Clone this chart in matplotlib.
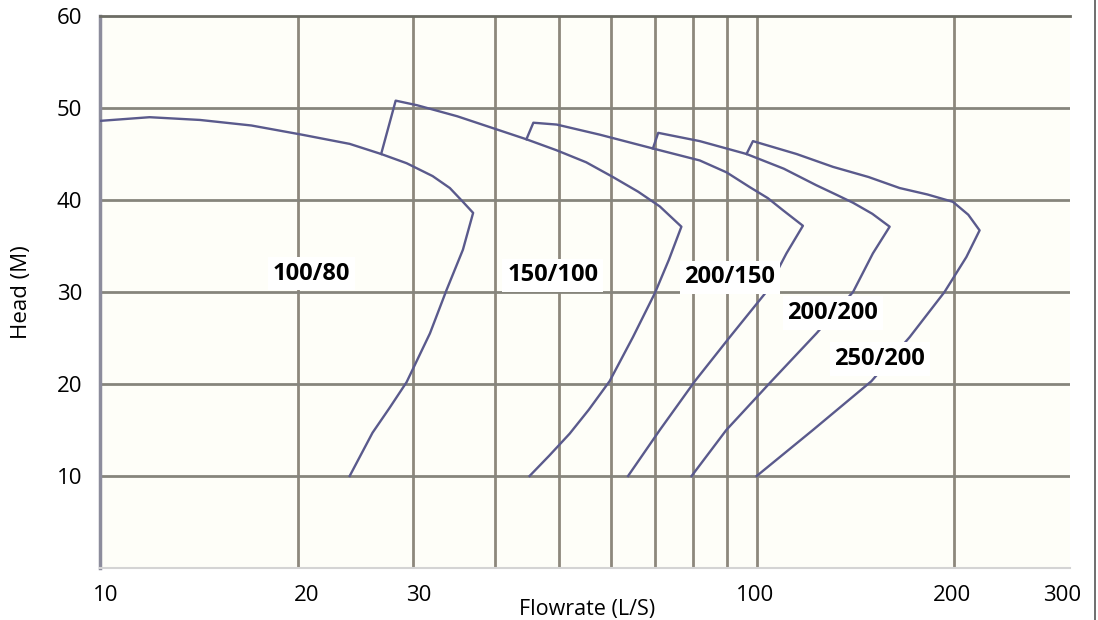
import matplotlib
matplotlib.use("Agg")
import matplotlib.pyplot as plt
import matplotlib.transforms as mtransforms
from matplotlib.lines import Line2D

# pump curves (flow L/S, head M)
q_100_80 = [10.0, 11.9, 14.2, 17.0, 20.3, 24.0, 26.8, 29.3, 32.1, 34.1, 35.7, 37.0,
            35.7, 33.7, 31.8, 29.3, 27.6, 26.0, 24.0]
h_100_80 = [48.6, 49.0, 48.7, 48.1, 47.1, 46.1, 45.0, 44.0, 42.6, 41.3, 39.8, 38.6,
            34.6, 30.2, 25.5, 20.2, 17.4, 14.7, 10.0]

q_150_100 = [26.8, 28.2, 30.4, 35.0, 39.7, 44.6, 49.6, 55.0, 60.4, 66.0, 71.2, 76.8,
             73.5, 70.0, 64.8, 59.7, 55.5, 51.9, 48.3, 45.1]
h_150_100 = [45.0, 50.8, 50.3, 49.1, 47.8, 46.6, 45.4, 44.1, 42.5, 40.9, 39.3, 37.1,
             33.5, 29.9, 25.1, 20.3, 17.2, 14.6, 12.2, 10.0]

q_200_150 = [44.6, 45.7, 49.6, 57.7, 69.5, 81.9, 90.0, 97.6, 104.0, 109.6, 117.6,
             111.0, 103.4, 91.0, 80.5, 71.2, 63.7]
h_200_150 = [46.6, 48.4, 48.2, 47.1, 45.6, 44.3, 43.0, 41.4, 40.2, 38.9, 37.2,
             34.2, 30.0, 25.1, 20.3, 15.0, 10.0]

q_200_200 = [69.5, 70.8, 81.9, 96.5, 110.0, 123.3, 132.0, 140.2, 150.0, 159.4,
             150.3, 140.2, 123.3, 105.3, 89.9, 79.6]
h_200_200 = [45.6, 47.3, 46.4, 45.0, 43.4, 41.6, 40.6, 39.7, 38.5, 37.1,
             34.2, 30.0, 25.5, 20.3, 15.0, 10.0]

q_250_200 = [96.5, 98.7, 115.0, 130.7, 148.0, 165.1, 182.0, 199.0, 210.0, 218.5,
             208.6, 193.2, 171.0, 149.5, 121.8, 100.0]
h_250_200 = [45.0, 46.4, 45.0, 43.6, 42.5, 41.3, 40.6, 39.8, 38.4, 36.7,
             33.8, 30.0, 25.1, 20.3, 15.0, 10.0]

curves = [(q_100_80, h_100_80), (q_150_100, h_150_100), (q_200_150, h_200_150),
          (q_200_200, h_200_200), (q_250_200, h_250_200)]

labels = ["100/80", "150/100", "200/150", "200/200", "250/200"]
label_q = [21.0, 48.9, 91.0, 130.5, 153.9]
label_h = [32.0, 31.8, 31.6, 27.7, 22.7]

x_grid = [20, 30, 40, 50, 60, 70, 80, 90, 100, 200]
y_grid = [10, 20, 30, 40, 50]
x_ticks = [10, 20, 30, 100, 200, 300]
y_ticks = [10, 20, 30, 40, 50, 60]

plt.rcParams['font.family'] = ['Open Sans', 'DejaVu Sans']

fig = plt.figure(figsize=(10.98, 6.2), dpi=100, facecolor="white")
ax = fig.add_axes([100/1098, 52/620, 970/1098, 552/620])
ax.set_facecolor("#fefef8")
ax.set_xscale("log")
ax.set_xlim(10, 300)
ax.set_ylim(0, 60)

for g in x_grid:
    ax.axvline(g, color="#8d887c", lw=2.0, zorder=1)
for g in y_grid:
    ax.axhline(g, color="#86857c", lw=2.0, zorder=1)

line_col = "#5a5a8c"
for q, h in curves:
    ax.plot(q, h, color=line_col, lw=1.7, zorder=3)

for txt, q, h in zip(labels, label_q, label_h):
    ax.text(q, h, txt, ha="center", va="center", fontsize=17, fontweight="bold",
            color="black", zorder=4,
            bbox=dict(boxstyle="square,pad=0.2", fc="white", ec="none"))

ax.set_xticks(x_ticks)
ax.set_xticklabels([str(t) for t in x_ticks])
ax.xaxis.set_minor_locator(matplotlib.ticker.NullLocator())
ax.set_yticks(y_ticks)
ax.tick_params(axis="both", length=0, labelsize=16, colors="black")
ax.tick_params(axis="x", pad=12)
ax.tick_params(axis="y", pad=13)

# the x labels in the original sit a little off their gridlines
nudge_px = [6, 9, 5, -2, -2, -8]
for lab, dx in zip(ax.get_xticklabels(), nudge_px):
    off = mtransforms.ScaledTranslation(dx / 100, 0, fig.dpi_scale_trans)
    lab.set_transform(lab.get_transform() + off)

fig.text(587/1098, 1 - 609/620, "Flowrate (L/S)", ha="center", va="center", fontsize=15.5)
fig.text(22/1098, 1 - 292/620, "Head (M)", ha="center", va="center", rotation=90,
         fontsize=16)

ax.spines["right"].set_visible(False)
ax.spines["left"].set_color("#8c8c9c")
ax.spines["left"].set_linewidth(2.5)
ax.spines["top"].set_color("#6c6c64")
ax.spines["top"].set_linewidth(2.0)
ax.spines["bottom"].set_color("#d4d4d4")
ax.spines["bottom"].set_linewidth(1.5)

# thin border on the right edge of the image
fig.add_artist(Line2D([1095/1098, 1095/1098], [0, 1], color="#555555", lw=1.2))

fig.savefig("out.png", dpi=100, facecolor=fig.get_facecolor())
